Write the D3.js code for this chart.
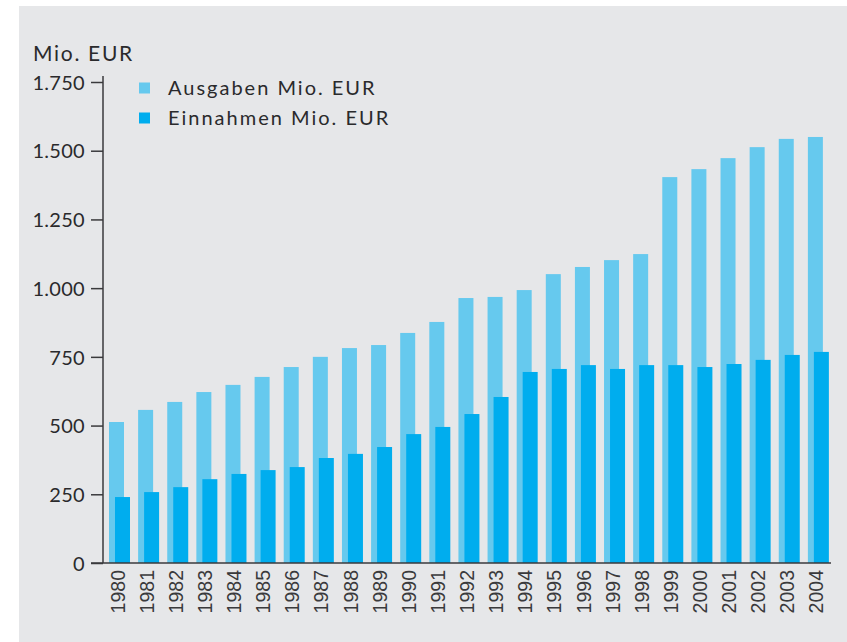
<!DOCTYPE html>
<html>
<head>
<meta charset="utf-8">
<script src="https://cdn.jsdelivr.net/npm/d3@7"></script>
<style>
  html, body { margin: 0; padding: 0; background: #ffffff; }
  svg { display: block; }
</style>
</head>
<body>
<svg id="chart" width="847" height="642"></svg>
<script>
const years = ["1980","1981","1982","1983","1984","1985","1986","1987","1988","1989","1990","1991","1992","1993","1994","1995","1996","1997","1998","1999","2000","2001","2002","2003","2004"];
const ausgaben = [513, 557, 586, 622, 648, 677, 713, 750, 782, 793, 837, 877, 964, 968, 993, 1051, 1077, 1102, 1124, 1404, 1433, 1473, 1513, 1543, 1550];
const einnahmen = [240, 258, 276, 305, 324, 338, 349, 382, 397, 422, 469, 495, 542, 604, 695, 706, 720, 706, 720, 720, 713, 724, 739, 757, 768];
const yTicks = [0, 250, 500, 750, 1000, 1250, 1500, 1750];
const seriesNames = ["Ausgaben Mio. EUR", "Einnahmen Mio. EUR"];
const unitLabel = "Mio. EUR";

const colors = ["#66c9ee", "#00adee"];
const textColor = "#2a2a2c";
const axisColor = "#3a3a3c";
const labelFont = "Lato, 'Open Sans', sans-serif";

const svg = d3.select("#chart");
svg.append("rect").attr("x", 19).attr("y", 6).attr("width", 847 - 19).attr("height", 642 - 6).attr("fill", "#e6e7e9");

const x = d3.scaleBand().domain(years).range([103, 831]).paddingInner(0).paddingOuter(0);
const y = d3.scaleLinear().domain([0, 1750]).range([563, 82]);

const de = d3.formatLocale({decimal: ",", thousands: ".", grouping: [3], currency: ["", " €"]});
const fmt = de.format(",");

const bw = x.bandwidth();
// Ausgaben bars (light)
svg.append("g").selectAll("rect").data(years).join("rect")
  .attr("x", d => x(d) + bw * 0.206)
  .attr("width", bw * 0.515)
  .attr("y", (d, i) => y(ausgaben[i]))
  .attr("height", (d, i) => y(0) - y(ausgaben[i]))
  .attr("fill", colors[0]);
// Einnahmen bars (dark)
svg.append("g").selectAll("rect").data(years).join("rect")
  .attr("x", d => x(d) + bw * 0.412)
  .attr("width", bw * 0.515)
  .attr("y", (d, i) => y(einnahmen[i]))
  .attr("height", (d, i) => y(0) - y(einnahmen[i]))
  .attr("fill", colors[1]);

// Y axis
const yAxis = d3.axisLeft(y).tickValues(yTicks).tickFormat(fmt).tickSize(12).tickPadding(6);
const gy = svg.append("g").attr("transform", "translate(103,0)").call(yAxis);
gy.select(".domain").remove();
gy.selectAll(".tick line").attr("stroke", axisColor).attr("stroke-width", 1.5);
gy.selectAll(".tick text").attr("fill", textColor).style("font-family", labelFont)
  .style("font-size", "20px").style("letter-spacing", "0.3px").attr("dy", "0.36em");
gy.append("line").attr("x1", 0).attr("x2", 0).attr("y1", y(1750) - 6).attr("y2", y(0))
  .attr("stroke", axisColor).attr("stroke-width", 1.5);

// X axis
const xAxis = d3.axisBottom(x).tickSize(0).tickPadding(0);
const gx = svg.append("g").attr("transform", `translate(0,${y(0)})`).call(xAxis);
gx.select(".domain").remove();
gx.append("line").attr("x1", 91).attr("x2", 831).attr("y1", 0).attr("y2", 0)
  .attr("stroke", axisColor).attr("stroke-width", 1.5);
gx.selectAll(".tick text")
  .attr("transform", "rotate(-90)")
  .attr("text-anchor", "end")
  .attr("x", -7).attr("y", 0).attr("dy", "0.36em")
  .attr("fill", "#3a3a3c")
  .style("font-family", "'Liberation Sans', Arial, sans-serif")
  .style("font-size", "19.5px");

// Unit label
svg.append("text").attr("x", 33).attr("y", 61).text(unitLabel)
  .attr("fill", textColor).style("font-family", labelFont).style("font-size", "21px")
  .style("letter-spacing", "1.7px");

// Legend
const legend = svg.append("g");
seriesNames.forEach((name, i) => {
  const ly = 88 + i * 30;
  legend.append("rect").attr("x", 139).attr("y", ly - 5.5).attr("width", 11).attr("height", 11).attr("fill", colors[i]);
  legend.append("text").attr("x", 168).attr("y", ly).attr("dy", "0.36em").text(name)
    .attr("fill", textColor).style("font-family", labelFont).style("font-size", "20px")
    .style("letter-spacing", "2px");
});
</script>
</body>
</html>
